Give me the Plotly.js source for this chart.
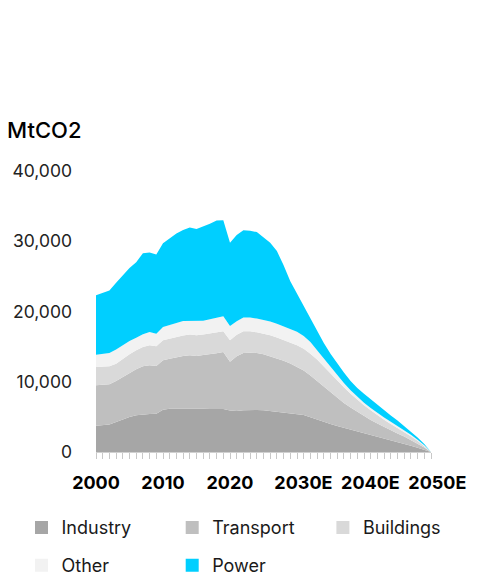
<!DOCTYPE html>
<html>
<head>
<meta charset="utf-8">
<script src="https://cdn.plot.ly/plotly-3.0.1.min.js"></script>
<style>
html,body{margin:0;padding:0;background:#fff;}
#chart{width:487px;height:585px;}
</style>
</head>
<body>
<div id="chart"></div>
<script>
var years = [];
for (var y = 2000; y <= 2050; y++) years.push(y);

var industry = [3750,3800,3900,4270,4650,4980,5220,5360,5410,5460,
  6030,6170,6170,6170,6200,6260,6170,6120,6070,6120,
  5900,5850,5950,6000,5980,5950,5850,5750,5650,5550,
  5450,5250,4950,4600,4300,4000,3700,3450,3200,2950,
  2750,2500,2250,2000,1750,1500,1200,900,600,300,0];
var transport = [5750,5750,5740,5840,6030,6270,6550,6840,6930,6780,
  7020,7120,7350,7500,7560,7410,7640,7780,7980,8110,
  6950,7770,8140,8140,8110,7950,7770,7600,7350,7050,
  6650,6350,5950,5500,4950,4450,4000,3530,3120,2740,
  2350,2050,1800,1550,1350,1150,1000,800,600,350,0];
var buildings = [2600,2600,2560,2470,2610,2650,2710,2750,2850,2810,
  2850,2850,2850,2900,2950,2940,2900,2950,2950,2950,
  3050,3080,3090,3040,2950,2950,2990,2950,2950,3000,
  3100,3100,3100,3050,2900,2650,2450,2220,1980,1760,
  1550,1400,1200,1050,900,800,650,550,400,200,0];
var other = [1760,1800,1900,2000,1900,1900,1800,1800,1890,1800,
  1900,1990,1990,2080,1990,2140,1990,2040,2080,2140,
  2050,1920,1950,1950,1960,1950,1970,1950,1950,1950,
  1900,1800,1660,1330,1140,1000,770,620,480,380,
  350,300,300,300,300,250,250,200,150,100,0];
var power = [8440,8650,8900,9520,10010,10400,10720,11550,11320,11250,
  11900,12270,12740,12950,13250,13000,13400,13610,13870,13680,
  11850,12280,12420,12370,12300,11800,11220,10350,8700,6750,
  5400,4200,3240,2620,2210,1900,1680,1480,1320,1270,
  1300,1250,1150,1100,900,800,600,450,300,200,0];

var seriesNames = ["Industry","Transport","Buildings","Other","Power"];
var seriesValues = [industry, transport, buildings, other, power];
var seriesColors = ["#a6a6a6","#bfbfbf","#d9d9d9","#f2f2f2","#00cfff"];

var tickYears = [2000,2010,2020,2030,2040,2050];
var tickLabels = ["2000","2010","2020","\u00a0\u00a0\u00a02030E","\u00a0\u00a0\u00a02040E","\u00a0\u00a0\u00a02050E"];

var FONT = "Inter, 'Open Sans', sans-serif";
var traces = [];
seriesNames.forEach(function(n, i){
  traces.push({
    x: years, y: seriesValues[i], type: "scatter", mode: "lines",
    stackgroup: "one", line: {width: 0, color: seriesColors[i]},
    fillcolor: seriesColors[i], name: n, showlegend: false, hoverinfo: "x+y+name"
  });
});
var legendIds = ["legend","legend2","legend3","legend4","legend5"];
seriesNames.forEach(function(n, i){
  traces.push({
    x: [null], y: [null], type: "scatter", mode: "markers", name: n,
    marker: {symbol: "square", size: 13, color: seriesColors[i]},
    legend: legendIds[i], hoverinfo: "skip"
  });
});

// legend slots: column left edges (px) and row centres (px)
var colLeft = [21.5, 172.2, 322.9];
var rowMid = [527.7, 565.5];
function makeLegend(col, row){
  return {
    orientation: "v", xref: "paper", yref: "container",
    x: (colLeft[col] - 96)/335, y: 1 - rowMid[row]/585,
    xanchor: "left", yanchor: "middle",
    font: {family: FONT, size: 18, color: "#1a1a1a"},
    bgcolor: "rgba(0,0,0,0)", borderwidth: 0,
    itemclick: false, itemdoubleclick: false
  };
}

var layout = {
  width: 487, height: 585,
  margin: {l: 96, r: 56, t: 170.7, b: 133.3, pad: 0},
  paper_bgcolor: "#fff", plot_bgcolor: "#fff",
  font: {family: FONT, color: "#222"},
  title: {
    text: "MtCO2", x: 7/487, xref: "container", xanchor: "left",
    y: 1 - 130/585, yref: "container", yanchor: "middle",
    font: {family: FONT, size: 22, weight: 500, color: "#000"}
  },
  xaxis: {
    range: [2000, 2050], type: "linear", showgrid: false, zeroline: false,
    showline: true, linecolor: "#d0d0d0", linewidth: 1,
    tickvals: tickYears, ticktext: tickLabels, tickangle: 0,
    ticks: "outside", ticklen: 6, tickcolor: "#c8c8c8", tickwidth: 1,
    minor: {dtick: 1, tick0: 2000, ticks: "outside", ticklen: 6, tickcolor: "#c8c8c8", tickwidth: 1},
    tickfont: {family: FONT, size: 18, weight: 700, color: "#000"},
    ticklabelstandoff: 8, ticklabeloverflow: "allow", fixedrange: true
  },
  yaxis: {
    range: [0, 40000], showgrid: false, zeroline: false, showline: false,
    dtick: 10000, tick0: 0, tickformat: ",d", ticks: "",
    tickfont: {family: FONT, size: 17.5, color: "#222"},
    ticklabelstandoff: 23, fixedrange: true
  },
  legend: makeLegend(0, 0),
  legend2: makeLegend(1, 0),
  legend3: makeLegend(2, 0),
  legend4: makeLegend(0, 1),
  legend5: makeLegend(1, 1),
  showlegend: true,
  hovermode: "x unified"
};

Plotly.newPlot("chart", traces, layout, {displayModeBar: false, responsive: false});
</script>
</body>
</html>
